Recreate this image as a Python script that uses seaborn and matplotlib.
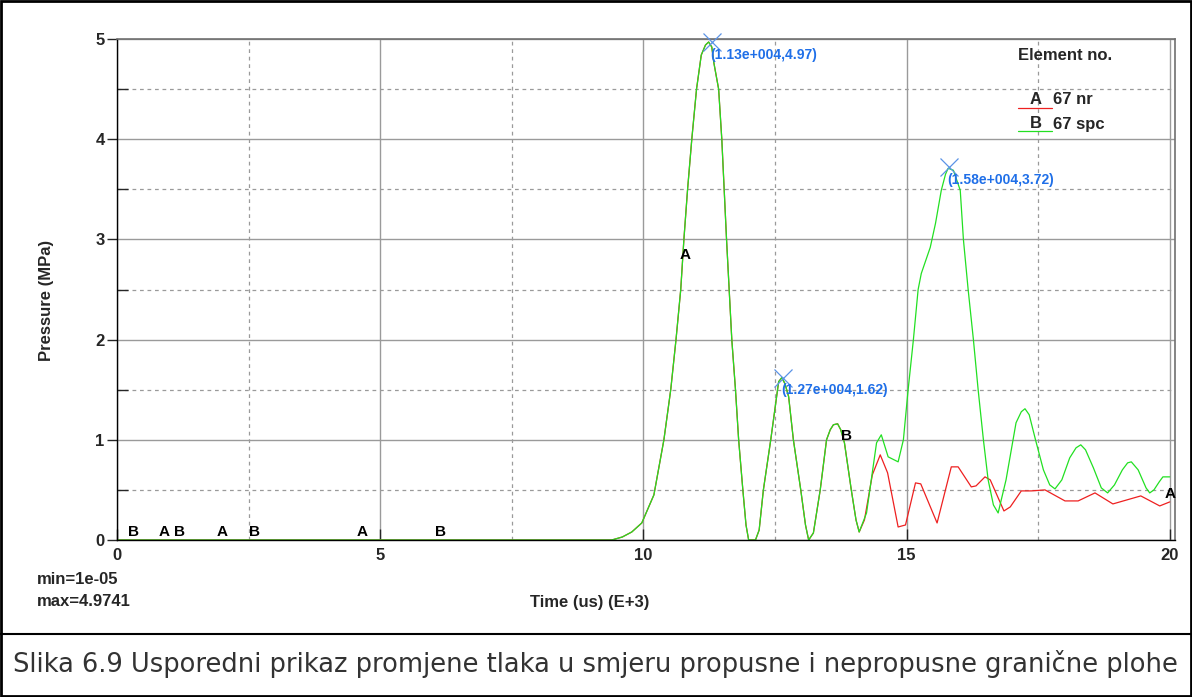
import matplotlib
matplotlib.use("Agg")
import matplotlib.pyplot as plt
import numpy as np
import pandas as pd
import seaborn as sns
from matplotlib.lines import Line2D
from matplotlib.patches import Rectangle
from matplotlib.ticker import MultipleLocator

# element 67 spc (B, green)
t_spc = [0, 9.4, 9.6, 9.78, 9.97, 10.2, 10.39, 10.52, 10.62, 10.71, 10.77, 10.84, 10.92,
         11.01, 11.1, 11.18, 11.24, 11.3, 11.34, 11.43, 11.49, 11.58, 11.68, 11.75, 11.81,
         11.89, 11.95, 12.0, 12.13, 12.2, 12.28, 12.42, 12.57, 12.63, 12.69, 12.76, 12.85,
         12.99, 13.08, 13.14, 13.23, 13.36, 13.48, 13.55, 13.61, 13.69, 13.75, 13.82, 13.95,
         14.04, 14.1, 14.24,
         14.43, 14.52, 14.65, 14.84, 14.94, 15.03, 15.13, 15.22, 15.28, 15.45, 15.55, 15.66,
         15.74, 15.79, 15.89, 16.02, 16.08, 16.17, 16.27, 16.36, 16.46, 16.55, 16.65, 16.74,
         16.89, 17.08, 17.18, 17.25, 17.33, 17.45, 17.6, 17.72, 17.82, 17.95, 18.1, 18.22,
         18.31, 18.4, 18.55, 18.7, 18.82, 18.95, 19.1, 19.2, 19.27, 19.4, 19.55, 19.62,
         19.7, 19.8, 19.87, 20.0]
p_spc = [0, 0, 0.03, 0.08, 0.17, 0.45, 1.0, 1.5, 2.0, 2.5, 3.0, 3.5, 4.0,
         4.5, 4.84, 4.94, 4.97, 4.92, 4.76, 4.5, 4.0, 3.0, 2.0, 1.5, 1.0,
         0.5, 0.15, 0.0, 0.0, 0.1, 0.5, 1.0, 1.58, 1.62, 1.56, 1.43, 1.0,
         0.5, 0.15, 0.0, 0.07, 0.5, 1.0, 1.1, 1.15, 1.16, 1.1, 0.97, 0.5,
         0.2, 0.08, 0.27,
         0.97, 1.05, 0.83, 0.78, 1.0, 1.5, 2.0, 2.5, 2.66, 2.92, 3.16, 3.49,
         3.65, 3.71, 3.69, 3.49, 3.0, 2.5, 2.0, 1.5, 1.0, 0.6, 0.35, 0.27,
         0.6, 1.17, 1.28, 1.31, 1.25, 1.0, 0.7, 0.55, 0.51, 0.6, 0.82, 0.92,
         0.95, 0.9, 0.72, 0.52, 0.47, 0.55, 0.7, 0.77, 0.78, 0.7, 0.52, 0.47,
         0.5, 0.58, 0.63, 0.63]

# element 67 nr (A, red) - identical to spc up to ~14.1
t_nr = t_spc[:51] + [14.2, 14.35, 14.5, 14.64, 14.84, 14.98, 15.17, 15.27, 15.58,
                     15.85, 15.98, 16.23, 16.32, 16.49, 16.59, 16.85, 16.97, 17.18, 17.37,
                     17.63, 18.01, 18.26, 18.58, 18.92, 19.45, 19.81, 20.0]
p_nr = p_spc[:51] + [0.2, 0.65, 0.85, 0.67, 0.13, 0.15, 0.57, 0.56, 0.17,
                     0.73, 0.73, 0.53, 0.54, 0.63, 0.6, 0.29, 0.33, 0.49, 0.49,
                     0.5, 0.39, 0.39, 0.47, 0.36, 0.44, 0.34, 0.38]

peak_x = [11.3, 12.65, 15.8]
peak_y = [4.97, 1.62, 3.72]
peak_lbl = ["(1.13e+004,4.97)", "(1.27e+004,1.62)", "(1.58e+004,3.72)"]

mark_x = [0.32, 0.89, 1.19, 1.99, 2.62, 4.65, 6.14, 10.8, 13.85, 20.0]
mark_y = [0.08, 0.08, 0.08, 0.08, 0.08, 0.08, 0.08, 2.84, 1.04, 0.46]
mark_lbl = ["B", "A", "B", "A", "B", "A", "B", "A", "B", "A"]

W, H = 1192, 697
sns.set_style("white")
plt.rcParams["font.family"] = ["Liberation Sans", "DejaVu Sans"]

fig = plt.figure(figsize=(W / 100, H / 100), dpi=100)
ax = fig.add_axes([117 / W, 1 - 540 / H, 1058 / W, 501 / H])

df_nr = pd.DataFrame({"t": t_nr, "p": p_nr})
df_spc = pd.DataFrame({"t": t_spc, "p": p_spc})
sns.lineplot(data=df_nr, x="t", y="p", color="#ee2020", lw=0.9, ax=ax,
             estimator=None, sort=False)
sns.lineplot(data=df_spc, x="t", y="p", color="#22e022", lw=0.9, ax=ax,
             estimator=None, sort=False)

ax.set_xlim(0, 20.1)
ax.set_ylim(0, 5)
ax.xaxis.set_major_locator(MultipleLocator(5))
ax.xaxis.set_minor_locator(MultipleLocator(2.5))
ax.yaxis.set_major_locator(MultipleLocator(1))
ax.yaxis.set_minor_locator(MultipleLocator(0.5))
ax.grid(True, which="major", color="#9a9a9a", lw=1.0, ls="-")
ax.grid(True, which="minor", color="#9a9a9a", lw=0.9, ls=(0, (3, 3)))
ax.set_axisbelow(True)

for s in ["left", "bottom"]:
    ax.spines[s].set_color("black")
    ax.spines[s].set_linewidth(1.0)
for s in ["top", "right"]:
    ax.spines[s].set_color("#707070")
    ax.spines[s].set_linewidth(1.2)

ax.tick_params(axis="y", which="major", direction="out", length=7, width=1,
               labelsize=12, pad=2, left=True)
ax.tick_params(axis="y", which="minor", direction="in", length=8, width=1, left=True)
ax.tick_params(axis="x", which="major", direction="in", length=8, width=1,
               labelsize=12, pad=6, bottom=True)
for lab in ax.get_xticklabels() + ax.get_yticklabels():
    lab.set_fontweight("bold")
ax.set_xlabel("")
ax.set_ylabel("")

# peak markers
ax.plot(peak_x, peak_y, ls="none", marker="x", ms=13, mew=0.9, color="#5b93e6",
        clip_on=False, zorder=5)
for x, y, s in zip(peak_x, peak_y, peak_lbl):
    ax.annotate(s, (x, y), xytext=(-1, -9), textcoords="offset points",
                ha="left", va="center", fontsize=10, fontweight="bold",
                color="#1f6fe8", zorder=6)

# curve letters
for x, y, s in zip(mark_x, mark_y, mark_lbl):
    ax.text(x, y, s, ha="center", va="center", fontsize=11, fontweight="bold",
            color="black", clip_on=False, zorder=6)


def ftxt(x, y, s, **kw):
    fig.text(x / W, 1 - y / H, s, **kw)


def fline(x0, x1, y, **kw):
    fig.add_artist(Line2D([x0 / W, x1 / W], [1 - y / H, 1 - y / H],
                          transform=fig.transFigure, **kw))


ftxt(47, 300, "Pressure (MPa)", rotation=90, ha="center", va="center",
     fontsize=12, fontweight="bold")
ftxt(590, 603, "Time (us) (E+3)", ha="center", va="center", fontsize=12,
     fontweight="bold")
ftxt(37, 580, "min=1e-05", ha="left", va="center", fontsize=12, fontweight="bold")
ftxt(37, 601, "max=4.9741", ha="left", va="center", fontsize=12, fontweight="bold")

# legend
ftxt(1065, 56, "Element no.", ha="center", va="center", fontsize=12, fontweight="bold")
ftxt(1036, 100, "A", ha="center", va="center", fontsize=12, fontweight="bold")
ftxt(1053, 100, "67 nr", ha="left", va="center", fontsize=12, fontweight="bold")
ftxt(1036, 124, "B", ha="center", va="center", fontsize=12, fontweight="bold")
ftxt(1053, 124, "67 spc", ha="left", va="center", fontsize=12, fontweight="bold")
fline(1018, 1052, 108, color="#ee2020", lw=0.9)
fline(1018, 1052, 131, color="#22e022", lw=0.9)

# caption and frame
fline(0, W, 634, color="black", lw=1.5)
ftxt(595, 664, "Slika 6.9 Usporedni prikaz promjene tlaka u smjeru propusne i nepropusne granične plohe",
     ha="center", va="center", fontsize=18.55, color="#333333", family=["DejaVu Sans"])
fig.add_artist(Rectangle((0.001, 0.001), 0.998, 0.997, transform=fig.transFigure,
                         fill=False, ec="black", lw=2))

fig.savefig("out.png", dpi=100)
